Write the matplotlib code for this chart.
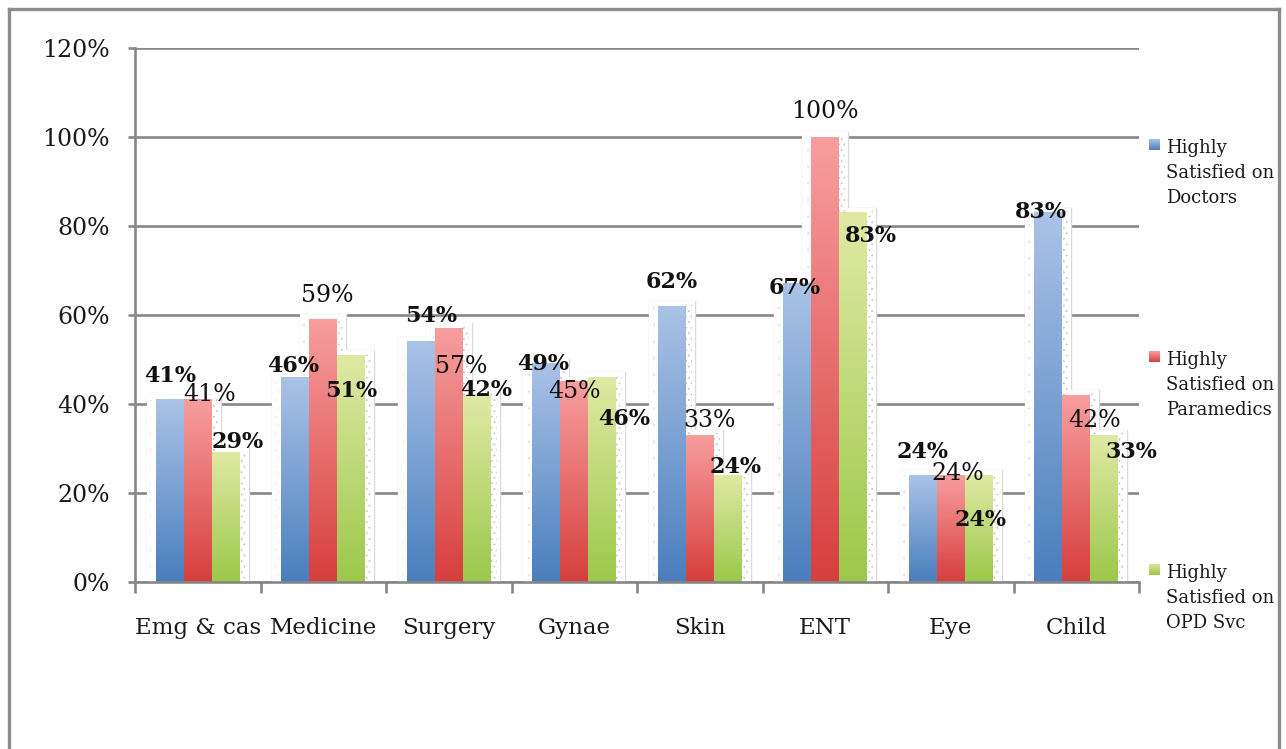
import numpy as np
import matplotlib.pyplot as plt
from matplotlib.colors import LinearSegmentedColormap
from matplotlib.patches import Rectangle
from matplotlib.lines import Line2D
from matplotlib.ticker import FuncFormatter

plt.rcParams['font.family'] = 'DejaVu Serif'
plt.rcParams['hatch.linewidth'] = 0.5

# data
categories = ['Emg & cas', 'Medicine', 'Surgery', 'Gynae', 'Skin', 'ENT', 'Eye', 'Child']
doctors = [41, 46, 54, 49, 62, 67, 24, 83]
paramedics = [41, 59, 57, 45, 33, 100, 24, 42]
opd = [29, 51, 42, 46, 24, 83, 24, 33]
series_names = ['Highly\nSatisfied on\nDoctors',
                'Highly\nSatisfied on\nParamedics',
                'Highly\nSatisfied on\nOPD Svc']

# label placement (pixel offsets from bar top), bold flag per series
doc_offsets = [(0, 24), (-2, 11), (10, 26), (-3, 0), (0, 24), (-3, -4), (0, 23), (-7, 1)]
par_offsets = [(12, 5), (4, 24), (12, -38), (0, -10), (10, 15), (0, 26), (7, 2), (18, -25)]
opd_offsets = [(12, 11), (0, -36), (9, 5), (22, -42), (8, 8), (18, -23), (2, -45), (27, -17)]

series = [doctors, paramedics, opd]
offsets = [doc_offsets, par_offsets, opd_offsets]
bold = [True, False, True]
grads = [['#4a7ebd', '#aac3e7'],
         ['#d63f3d', '#f89e9e'],
         ['#9bc84a', '#e0e9a4']]
cmaps = [LinearSegmentedColormap.from_list('g%d' % i, g) for i, g in enumerate(grads)]

W, H = 1286, 749
fig = plt.figure(figsize=(W / 100, H / 100), dpi=100)
ax = fig.add_axes([135 / W, 1 - 582 / H, (1139 - 135) / W, (582 - 48) / H])

grey = '#878787'
bw = 28 / 125.5
pad_x = 9 / 125.5
pad_y = 5 / 4.45
strip = 6 / 125.5
grad = np.linspace(0, 1, 256).reshape(-1, 1)

x = np.arange(len(categories)) + 0.5
for k, vals in enumerate(series):
    for i, v in enumerate(vals):
        xc = x[i] + (k - 1) * bw
        x0, x1 = xc - bw / 2, xc + bw / 2
        # shadow box: outline below, fill above so overlapping boxes merge
        ax.add_patch(Rectangle((x0 - pad_x, 0), bw + 2 * pad_x, v + pad_y,
                               facecolor='none', edgecolor='#dadada', lw=1.0, zorder=1))
        ax.add_patch(Rectangle((x0 - pad_x, 0), bw + 2 * pad_x, v + pad_y,
                               facecolor='white', edgecolor='none', zorder=1.5))
        ax.add_patch(Rectangle((x1, 0), strip, v + 0.4, hatch='...', fill=False,
                               lw=0, edgecolor='#c4c4c4', zorder=1.6))
        ax.add_patch(Rectangle((x0 - strip, 0), strip * 0.6, v, hatch='..', fill=False,
                               lw=0, edgecolor='#e2e2e2', zorder=1.6))
        ax.imshow(grad[::-1], cmap=cmaps[k], extent=(x0, x1, 0, v), aspect='auto',
                  zorder=2, interpolation='bilinear')

for k, vals in enumerate(series):
    for i, v in enumerate(vals):
        xc = x[i] + (k - 1) * bw
        dx, dy = offsets[k][i]
        ax.annotate('%d%%' % v, xy=(xc, v), xytext=(dx, dy), textcoords='offset pixels',
                    ha='center', va='center', color='#111111',
                    fontsize=16 if bold[k] else 17,
                    fontweight='bold' if bold[k] else 'normal', zorder=5)

ax.set_xlim(0, len(categories))
ax.set_ylim(0, 120)
ax.set_yticks(np.arange(0, 121, 20))
ax.yaxis.set_major_formatter(FuncFormatter(lambda v, p: '%d%%' % v))
ax.set_xticks(x)
ax.set_xticklabels(categories)
ax.set_xticks(np.arange(0, len(categories) + 1), minor=True)

ax.grid(axis='y', color=grey, lw=1.9, zorder=0.5)
ax.set_axisbelow(True)
for s in ['top', 'right']:
    ax.spines[s].set_visible(False)
for s in ['left', 'bottom']:
    ax.spines[s].set_color(grey)
    ax.spines[s].set_linewidth(1.9)
ax.tick_params(axis='y', length=5, width=1.9, color=grey, pad=13,
               labelsize=17, labelcolor='#1a1a1a')
ax.tick_params(axis='x', which='major', length=0, pad=25,
               labelsize=16.5, labelcolor='#1a1a1a')
ax.tick_params(axis='x', which='minor', length=8, width=1.9, color=grey)

# outer frame (bottom edge falls outside the picture)
for xs, ys in [([9 / W, 9 / W], [0, 1 - 9 / H]),
               ([9 / W, 1279 / W], [1 - 9 / H, 1 - 9 / H]),
               ([1279 / W, 1279 / W], [1 - 9 / H, 0])]:
    fig.add_artist(Line2D(xs, ys, transform=fig.transFigure, color='#8c8c8c', lw=2.4))

# legend
legend_mid = [173, 385, 598]
for k in range(3):
    yc = legend_mid[k]
    max_ = fig.add_axes([1149 / W, 1 - (yc - 23) / H, 11 / W, 11 / H])
    max_.imshow(grad[::-1], cmap=cmaps[k], aspect='auto')
    max_.axis('off')
    fig.text(1166 / W, 1 - yc / H, series_names[k], ha='left', va='center',
             fontsize=13, linespacing=1.5, color='#1a1a1a')

fig.savefig('out.png', dpi=100)
